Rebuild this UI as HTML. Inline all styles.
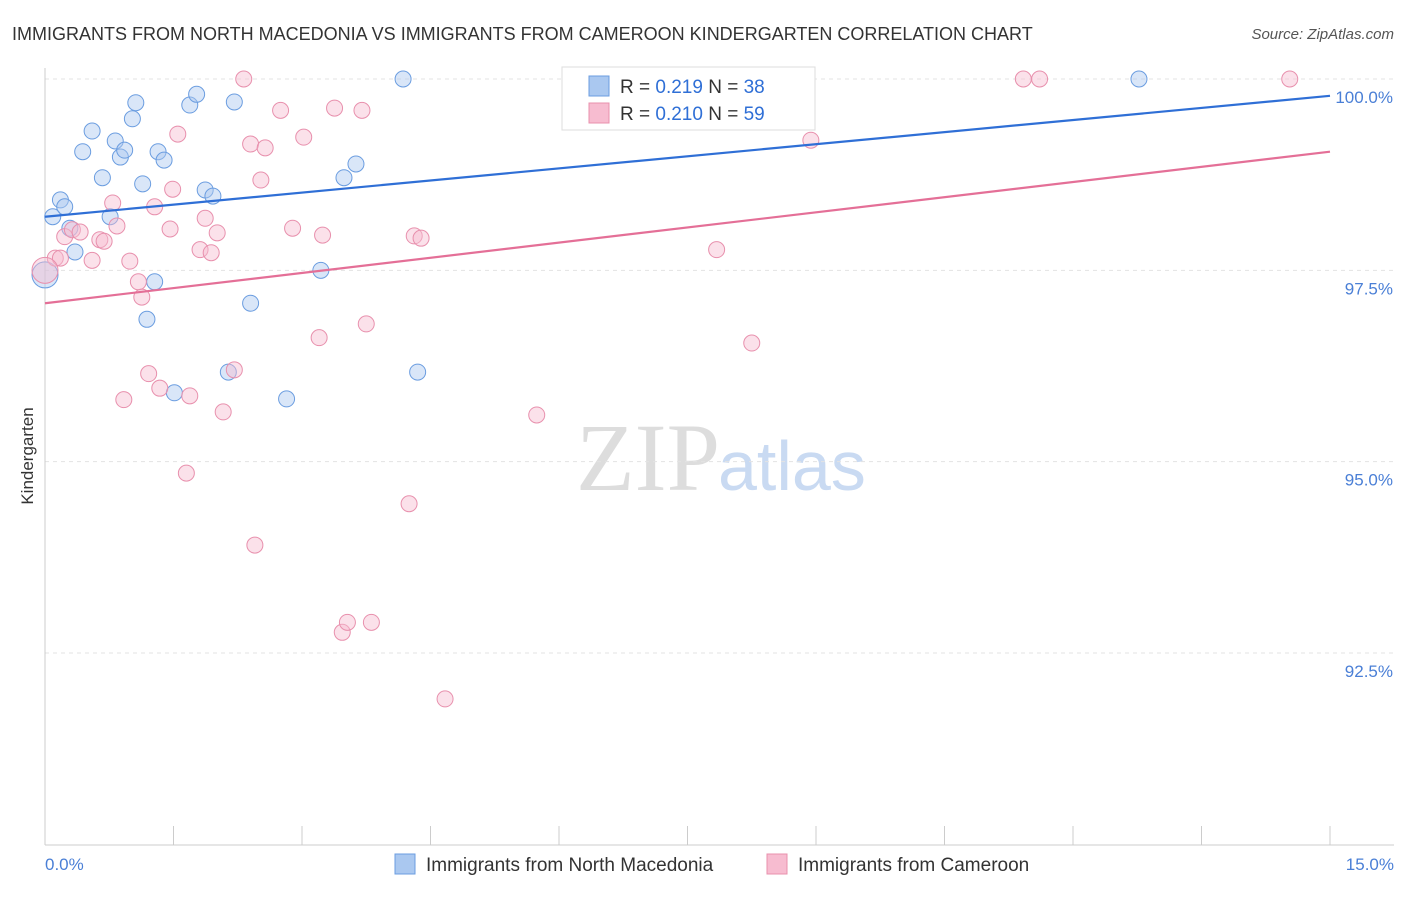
<!DOCTYPE html>
<html><head><meta charset="utf-8"><style>
body{margin:0;background:#fff;font-family:"Liberation Sans",sans-serif}
</style></head><body>
<svg id="c" width="1406" height="892" xmlns="http://www.w3.org/2000/svg" style="font-family:'Liberation Sans',sans-serif">
<text x="12" y="40" font-size="18" fill="#333">IMMIGRANTS FROM NORTH MACEDONIA VS IMMIGRANTS FROM CAMEROON KINDERGARTEN CORRELATION CHART</text>
<text x="1394" y="39" font-size="15" fill="#555" text-anchor="end" font-style="italic">Source: ZipAtlas.com</text>
<text transform="translate(33,456) rotate(-90)" font-size="17" fill="#333" text-anchor="middle">Kindergarten</text>
<text x="720" y="490" font-size="96" text-anchor="end" fill="#ddd" font-family="Liberation Serif">ZIP</text>
<text x="718" y="490" font-size="70" fill="#c9daf2">atlas</text>
<g id="grid"></g><g id="pts"></g><g id="lines"></g>
<g>
<rect x="562" y="67" width="253" height="63" fill="#fff" stroke="#ddd"/>
<rect x="589" y="76" width="20" height="20" fill="#aac8f0" stroke="#6b9de0"/>
<rect x="589" y="103" width="20" height="20" fill="#f7bcd0" stroke="#e890ad"/>
<text x="620" y="93" font-size="19" fill="#333">R = <tspan fill="#2f6fd6">0.219</tspan>   N = <tspan fill="#2f6fd6">38</tspan></text>
<text x="620" y="120" font-size="19" fill="#333">R = <tspan fill="#2f6fd6">0.210</tspan>   N = <tspan fill="#2f6fd6">59</tspan></text>
</g>
<g>
<rect x="395" y="854" width="20" height="20" fill="#aac8f0" stroke="#6b9de0"/>
<text x="426" y="871" font-size="19" fill="#333">Immigrants from North Macedonia</text>
<rect x="767" y="854" width="20" height="20" fill="#f7bcd0" stroke="#e890ad"/>
<text x="798" y="871" font-size="19" fill="#333">Immigrants from Cameroon</text>
</g>
</svg>
<script>
const xTicks=[0,1.5,3,4.5,6,7.5,9,10.5,12,13.5,15];
const yTicks=[100,97.5,95,92.5];
const yTickLabels=["100.0%","97.5%","95.0%","92.5%"];
const blueX=[0.09,0.18,0.23,0.29,0.35,0.44,0.55,0.67,0.76,0.82,0.88,0.93,1.02,1.06,1.14,1.28,1.19,1.32,1.39,1.51,1.69,1.77,1.87,1.96,2.21,2.14,2.40,2.82,3.22,3.49,3.63,4.18,4.35,8.09,12.77,0.0];
const blueY=[98.20,98.42,98.33,98.05,97.74,99.05,99.32,98.71,98.20,99.19,98.98,99.07,99.48,99.69,98.63,97.35,96.86,99.05,98.94,95.90,99.66,99.80,98.55,98.47,99.70,96.17,97.07,95.82,97.50,98.71,98.89,100,96.17,100,100,97.44];
const pinkX=[0.12,0.18,0.23,0.32,0.41,0.55,0.64,0.69,0.79,0.84,0.99,1.09,1.13,1.21,0.92,1.28,1.34,1.46,1.49,1.55,1.65,1.69,1.81,1.87,1.94,2.01,2.08,2.21,2.32,2.40,2.45,2.52,2.57,2.75,2.89,3.02,3.20,3.24,3.38,3.47,3.53,3.70,3.75,3.81,4.25,4.31,4.39,4.67,5.74,7.84,8.25,8.67,8.94,11.42,11.61,14.53,0];
const pinkY=[97.66,97.66,97.94,98.03,98.00,97.63,97.90,97.88,98.38,98.08,97.62,97.35,97.15,96.15,95.81,98.33,95.96,98.04,98.56,99.28,94.85,95.86,97.77,98.18,97.73,97.99,95.65,96.20,100,99.15,93.91,98.68,99.10,99.59,98.05,99.24,96.62,97.96,99.62,92.77,92.90,99.59,96.80,92.90,94.45,97.95,97.92,91.90,95.61,97.77,96.55,100,99.20,100,100,100,97.50];
const blueTrend=[98.20,99.78];
const pinkTrend=[97.07,99.05];
const NS="http://www.w3.org/2000/svg";
const X=v=>45+v*(1285/15), Y=v=>79+(100-v)*76.53;
function mk(t,a,p){const e=document.createElementNS(NS,t);for(const k in a)e.setAttribute(k,a[k]);document.getElementById(p).appendChild(e);return e;}
yTicks.forEach((t,i)=>{const l=mk('line',{x1:45,x2:1394,y1:Y(t),y2:Y(t),stroke:'#e3e3e3','stroke-dasharray':'4,4'},'grid');

const tx=mk('text',{x:1393,y:Y(t)+24,'font-size':17,fill:'#4a7fd6','text-anchor':'end'},'grid');tx.textContent=yTickLabels[i];
});
const ax=mk('line',{x1:45,x2:45,y1:68,y2:845,stroke:'#ccc'},'grid');
const bx=mk('line',{x1:45,x2:1394,y1:845,y2:845,stroke:'#ccc'},'grid');
xTicks.forEach(t=>{const l=mk('line',{x1:X(t),x2:X(t),y1:826,y2:845,stroke:'#ccc'},'grid');});
[["0.0%",45,"start"],["15.0%",1394,"end"]].forEach(a=>{const t=mk('text',{x:a[1],y:870,'font-size':17,fill:'#4a7fd6','text-anchor':a[2]},'grid');t.textContent=a[0];});
function pts(xs,ys,f,s,n){xs.forEach((x,i)=>{const big=(x===0);const c=mk('circle',{cx:X(x),cy:Y(ys[i]),r:big?13:8,fill:f,'fill-opacity':0.45,stroke:s,'stroke-width':1},'pts');
});}
pts(blueX,blueY,'#aac8f0','#6b9de0','point-north-macedonia');
pts(pinkX,pinkY,'#f7bcd0','#e890ad','point-cameroon');
const l1=mk('line',{x1:X(0),y1:Y(blueTrend[0]),x2:X(15),y2:Y(blueTrend[1]),stroke:'#2f6fd6','stroke-width':2.2},'lines');

const l2=mk('line',{x1:X(0),y1:Y(pinkTrend[0]),x2:X(15),y2:Y(pinkTrend[1]),stroke:'#e46f97','stroke-width':2.2},'lines');

</script>
</body></html>
